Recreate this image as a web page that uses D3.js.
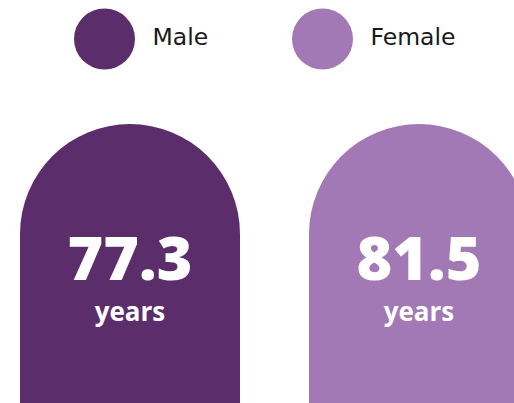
<!DOCTYPE html>
<html>
<head>
<meta charset="utf-8">
<script src="https://cdn.jsdelivr.net/npm/d3@7"></script>
<style>
  html, body { margin: 0; padding: 0; background: #fff; overflow: hidden; }
</style>
</head>
<body>
<div id="chart"></div>
<script>
var svgWidth = 514;
var svgHeight = 403;

// data
var categories = ["Male", "Female"];
var lifeExpectancy = [77.3, 81.5];
var unitLabel = "years";
var colors = ["#5b2e6b", "#a278b5"];

var data = categories.map(function (c, i) {
    return { sex: c, value: lifeExpectancy[i], color: colors[i] };
});

var svg = d3.select("#chart")
    .append("svg")
    .attr("width", svgWidth)
    .attr("height", svgHeight);

// bars: same arch shape, value shown as label
var barTop = 124;
var barBottom = 420;

var xScale = d3.scaleBand()
    .domain(categories)
    .range([20, 529])
    .paddingInner(69 / 289)
    .paddingOuter(0);

var r = xScale.bandwidth() / 2;

function archPath(d) {
    var x0 = xScale(d.sex);
    var x1 = x0 + xScale.bandwidth();
    return "M" + x0 + "," + barBottom +
        "L" + x0 + "," + (barTop + r) +
        "A" + r + "," + r + " 0 0 1 " + x1 + "," + (barTop + r) +
        "L" + x1 + "," + barBottom + "Z";
}

var bars = svg.append("g")
    .selectAll("g")
    .data(data)
    .enter()
    .append("g");

bars.append("path")
    .attr("d", archPath)
    .attr("fill", d => d.color);

bars.append("text")
    .attr("x", d => xScale(d.sex) + r)
    .attr("y", 280)
    .attr("text-anchor", "middle")
    .attr("font-family", "'Open Sans', sans-serif")
    .attr("font-weight", 800)
    .attr("font-size", "61px")
    .attr("fill", "#fff")
    .text(d => d3.format(".1f")(d.value));

bars.append("text")
    .attr("x", d => xScale(d.sex) + r)
    .attr("y", 321)
    .attr("text-anchor", "middle")
    .attr("font-family", "'Open Sans', sans-serif")
    .attr("font-weight", 700)
    .attr("font-size", "26px")
    .attr("fill", "#fff")
    .text(unitLabel);

// legend
var legendScale = d3.scalePoint()
    .domain(categories)
    .range([104.5, 322.5]);

var legend = svg.append("g")
    .selectAll("g")
    .data(data)
    .enter()
    .append("g")
    .attr("transform", d => `translate(${legendScale(d.sex)}, 39)`);

legend.append("circle")
    .attr("r", 30.5)
    .attr("fill", d => d.color);

legend.append("text")
    .attr("x", 48)
    .attr("y", 6)
    .attr("font-family", "'DejaVu Sans', sans-serif")
    .attr("font-size", "23.5px")
    .attr("fill", "#1a1a1a")
    .text(d => d.sex);
</script>
</body>
</html>
